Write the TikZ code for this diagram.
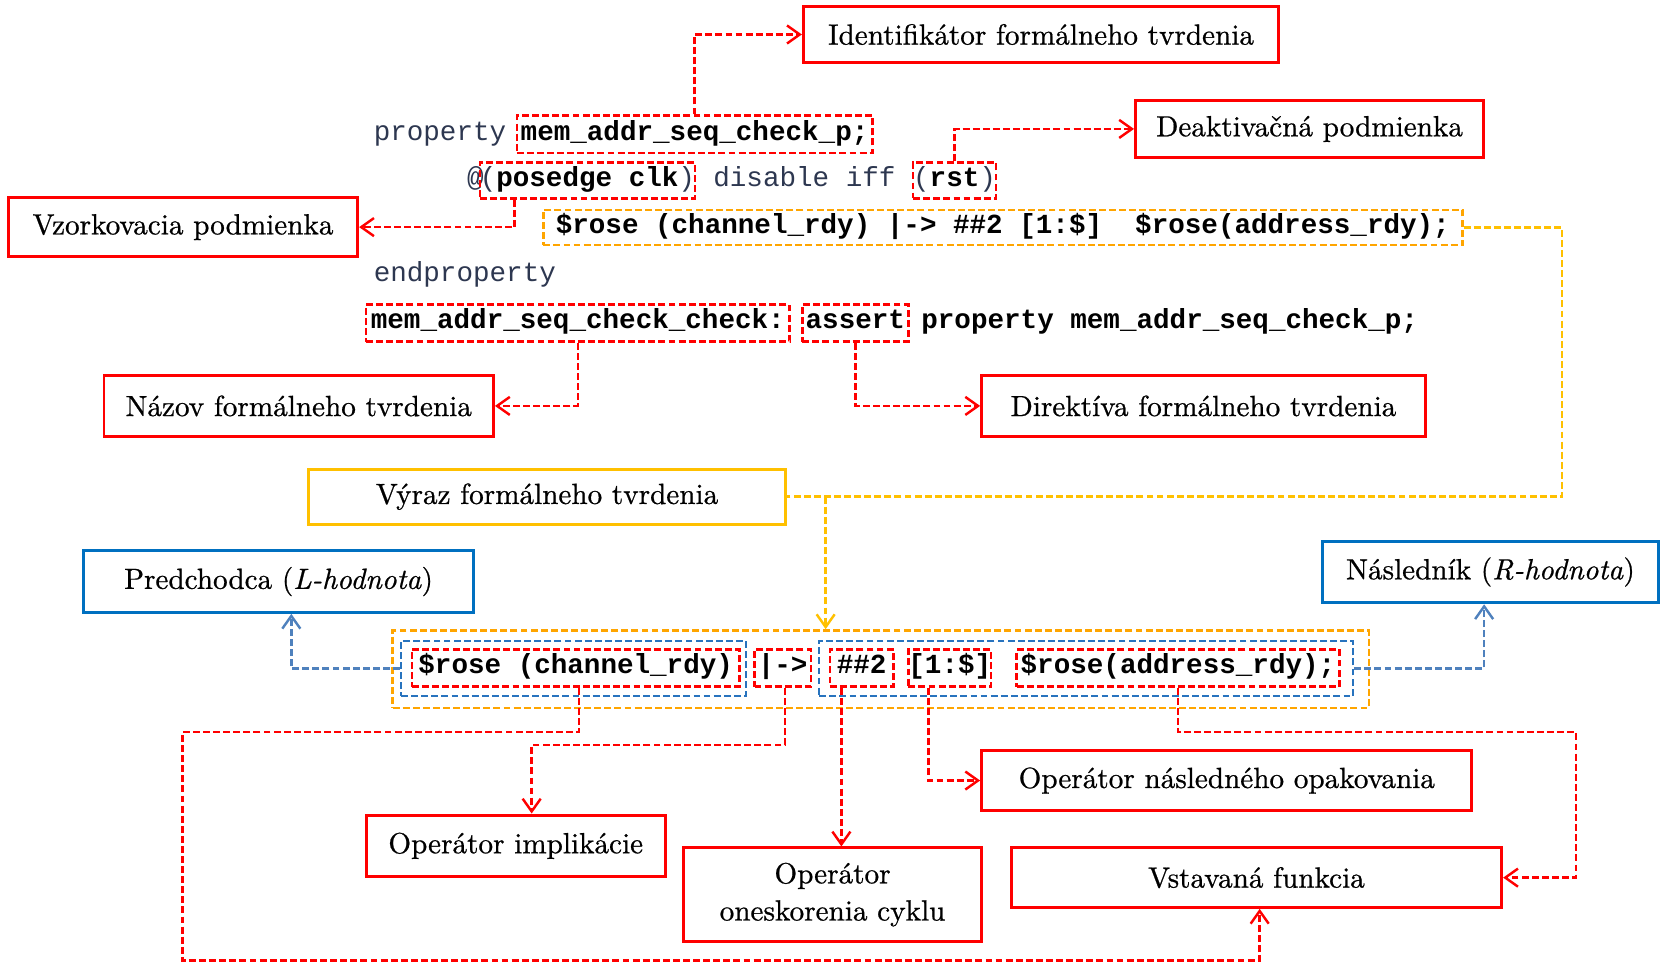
\documentclass[tikz,border=0pt]{standalone}
\usepackage{fontspec}
\usetikzlibrary{arrows.meta}
\newfontfamily\cmono{Liberation Mono}
\newfontfamily\lmten{lmroman10-regular.otf}[ItalicFont=lmroman10-italic.otf, BoldFont=lmroman10-bold.otf, FakeBold=0.7]
\definecolor{cred}{RGB}{255,0,0}
\definecolor{corange}{RGB}{255,165,0}
\definecolor{cyellow}{RGB}{255,192,0}
\definecolor{cblue}{RGB}{0,112,192}
\definecolor{cbluedash}{RGB}{40,115,190}
\definecolor{cblueline}{RGB}{79,129,189}
\definecolor{ckw}{RGB}{45,55,80}
\newcommand\kwp[1]{{\mdseries\color{ckw}#1}}
\tikzset{
  lbl/.style={draw=cred, line width=2.8pt, inner sep=0pt, align=center,
    font=\lmten\fontsize{27.5}{35}\selectfont},
  lblY/.style={lbl, draw=cyellow},
  lblB/.style={lbl, draw=cblue},
  code/.style={inner sep=0pt, text height=17pt, text depth=6pt,
    font=\cmono\fontsize{26}{30}\selectfont\bfseries},
  kw/.style={code, font=\cmono\fontsize{26}{30}\selectfont, text=ckw},
  dsh/.style={line width=2.3pt, dash pattern=on 6.5pt off 3pt},
  cbox/.style={code, dsh, draw=cred},
  obox/.style={dsh, draw=corange, inner sep=0pt},
  bbox/.style={dsh, draw=cbluedash, inner sep=0pt},
  tip/.style={-{Straight Barb[length=12pt,width=17pt,line width=2.3pt]}},
  conn/.style={dsh, draw=cred, tip},
  yconn/.style={dsh, draw=cyellow},
  bconn/.style={dsh, draw=cblueline, tip},
}
\begin{document}
\begin{tikzpicture}[x=1pt,y=-1pt]
\useasboundingbox (0,0) rectangle (1568,907);
% label boxes
\node[lbl, minimum width=448, minimum height=53] (ident) at (981,32.5) {Identifikátor formálneho tvrdenia};
\node[lbl, minimum width=328, minimum height=53] (deakt) at (1234,121.5) {Deaktivačná podmienka};
\node[lbl, minimum width=329, minimum height=56] (vzork) at (172.5,214) {Vzorkovacia podmienka};
\node[lbl, minimum width=367, minimum height=57] (nazov) at (281.5,382.5) {Názov formálneho tvrdenia};
\node[lbl, minimum width=418, minimum height=57] (direkt) at (1134,382.5) {Direktíva formálneho tvrdenia};
\node[lblY, minimum width=449, minimum height=52] (vyraz) at (515.5,468) {Výraz formálneho tvrdenia};
\node[lblB, minimum width=367, minimum height=58] (predch) at (262.5,548) {Predchodca (\textit{L-hodnota})};
\node[lblB, minimum width=317, minimum height=58] (nasl) at (1404.5,539) {Následník (\textit{R-hodnota})};
\node[lbl, minimum width=462, minimum height=57] (opnasl) at (1156,735.5) {Operátor následného opakovania};
\node[lbl, minimum width=282, minimum height=58] (opimpl) at (486,797) {Operátor implikácie};
\node[lbl, minimum width=281, minimum height=88] (oneskor) at (784.5,843) {Operátor\\oneskorenia cyklu};
\node[lbl, minimum width=462, minimum height=56] (vstav) at (1184,827) {Vstavaná funkcia};
% code, upper part
\node[kw, anchor=west] (kprop) at (352,126.5) {property};
\node[cbox, minimum width=335, minimum height=35] (mp) at (654.5,126.5) {mem\_addr\_seq\_check\_p;};
\node[kw, anchor=west] (kat) at (440,170) {@};
\node[cbox, minimum width=199, minimum height=34] (posedge) at (553.5,170) {\kwp{(}posedge clk\kwp{)}};
\node[kw, anchor=west] (kdis) at (672,170) {disable iff};
\node[cbox, minimum width=71, minimum height=34] (rst) at (899.5,170) {\kwp{(}rst\kwp{)}};
\node[obox, code, minimum width=866, minimum height=33] (expr) at (945,214.5) {\$rose (channel\_rdy) |-> \#\#2 [1:\$]~ \$rose(address\_rdy);};
\node[kw, anchor=west] (kend) at (352,260) {endproperty};
\node[cbox, minimum width=399, minimum height=35] (mcheck) at (544.5,304.5) {mem\_addr\_seq\_check\_check:};
\node[cbox, minimum width=100, minimum height=35] (assert) at (806,304.5) {assert};
\node[code, anchor=west] (prop2) at (868,304.5) {property mem\_addr\_seq\_check\_p;};
% code, lower part
\node[obox, minimum width=920, minimum height=73] (big) at (830,630.5) {};
\node[bbox, minimum width=325, minimum height=52] (blue1) at (540.5,630) {};
\node[bbox, minimum width=503, minimum height=52] (blue2) at (1023.5,630) {};
\node[cbox, minimum width=309, minimum height=35] (srose1) at (542.5,629.5) {\$rose (channel\_rdy)};
\node[cbox, minimum width=53, minimum height=35] (impl) at (737.5,629.5) {|->};
\node[cbox, minimum width=60, minimum height=35] (hash) at (812,629.5) {\#\#2};
\node[cbox, minimum width=74, minimum height=35] (range) at (895,629.5) {[1:\$]};
\node[cbox, minimum width=304, minimum height=35] (srose2) at (1110,629.5) {\$rose(address\_rdy);};
% helper coordinates
\coordinate (c4) at (1472,468);
\coordinate (yj) at (778,468);
\coordinate (c9a) at (172,690);
\coordinate (c9b) at (172,905);
\coordinate (c10) at (501,702);
\coordinate (c13) at (1485,690);
% connectors
\draw[conn] (mp.north) |- (ident.west);
\draw[conn] (rst.north) |- (deakt.west);
\draw[conn] ([xshift=34pt]posedge.south west) |- (vzork.east);
\draw[yconn] (expr.east) -| (c4) -- (vyraz.east);
\draw[yconn, tip] (yj) -- (yj |- big.north);
\draw[conn] (mcheck.south) |- (nazov.east);
\draw[conn] (assert.south) |- (direkt.west);
\draw[bconn] (blue1.west) -| ([xshift=12pt]predch.south);
\draw[bconn] (blue2.east) -| ([xshift=-6pt]nasl.south);
\draw[conn] ([xshift=3pt]srose1.south) |- (c9a) -- (c9b) -| ([xshift=3pt]vstav.south);
\draw[conn] ([xshift=2pt]impl.south) |- (c10) -- (c10 |- opimpl.north);
\draw[conn] ([xshift=12pt]hash.south west) coordinate (c11) -- (c11 |- oneskor.north);
\draw[conn] ([xshift=20pt]range.south west) |- (opnasl.west);
\draw[conn] (srose2.south) |- (c13) |- (vstav.east);
\end{tikzpicture}
\end{document}
